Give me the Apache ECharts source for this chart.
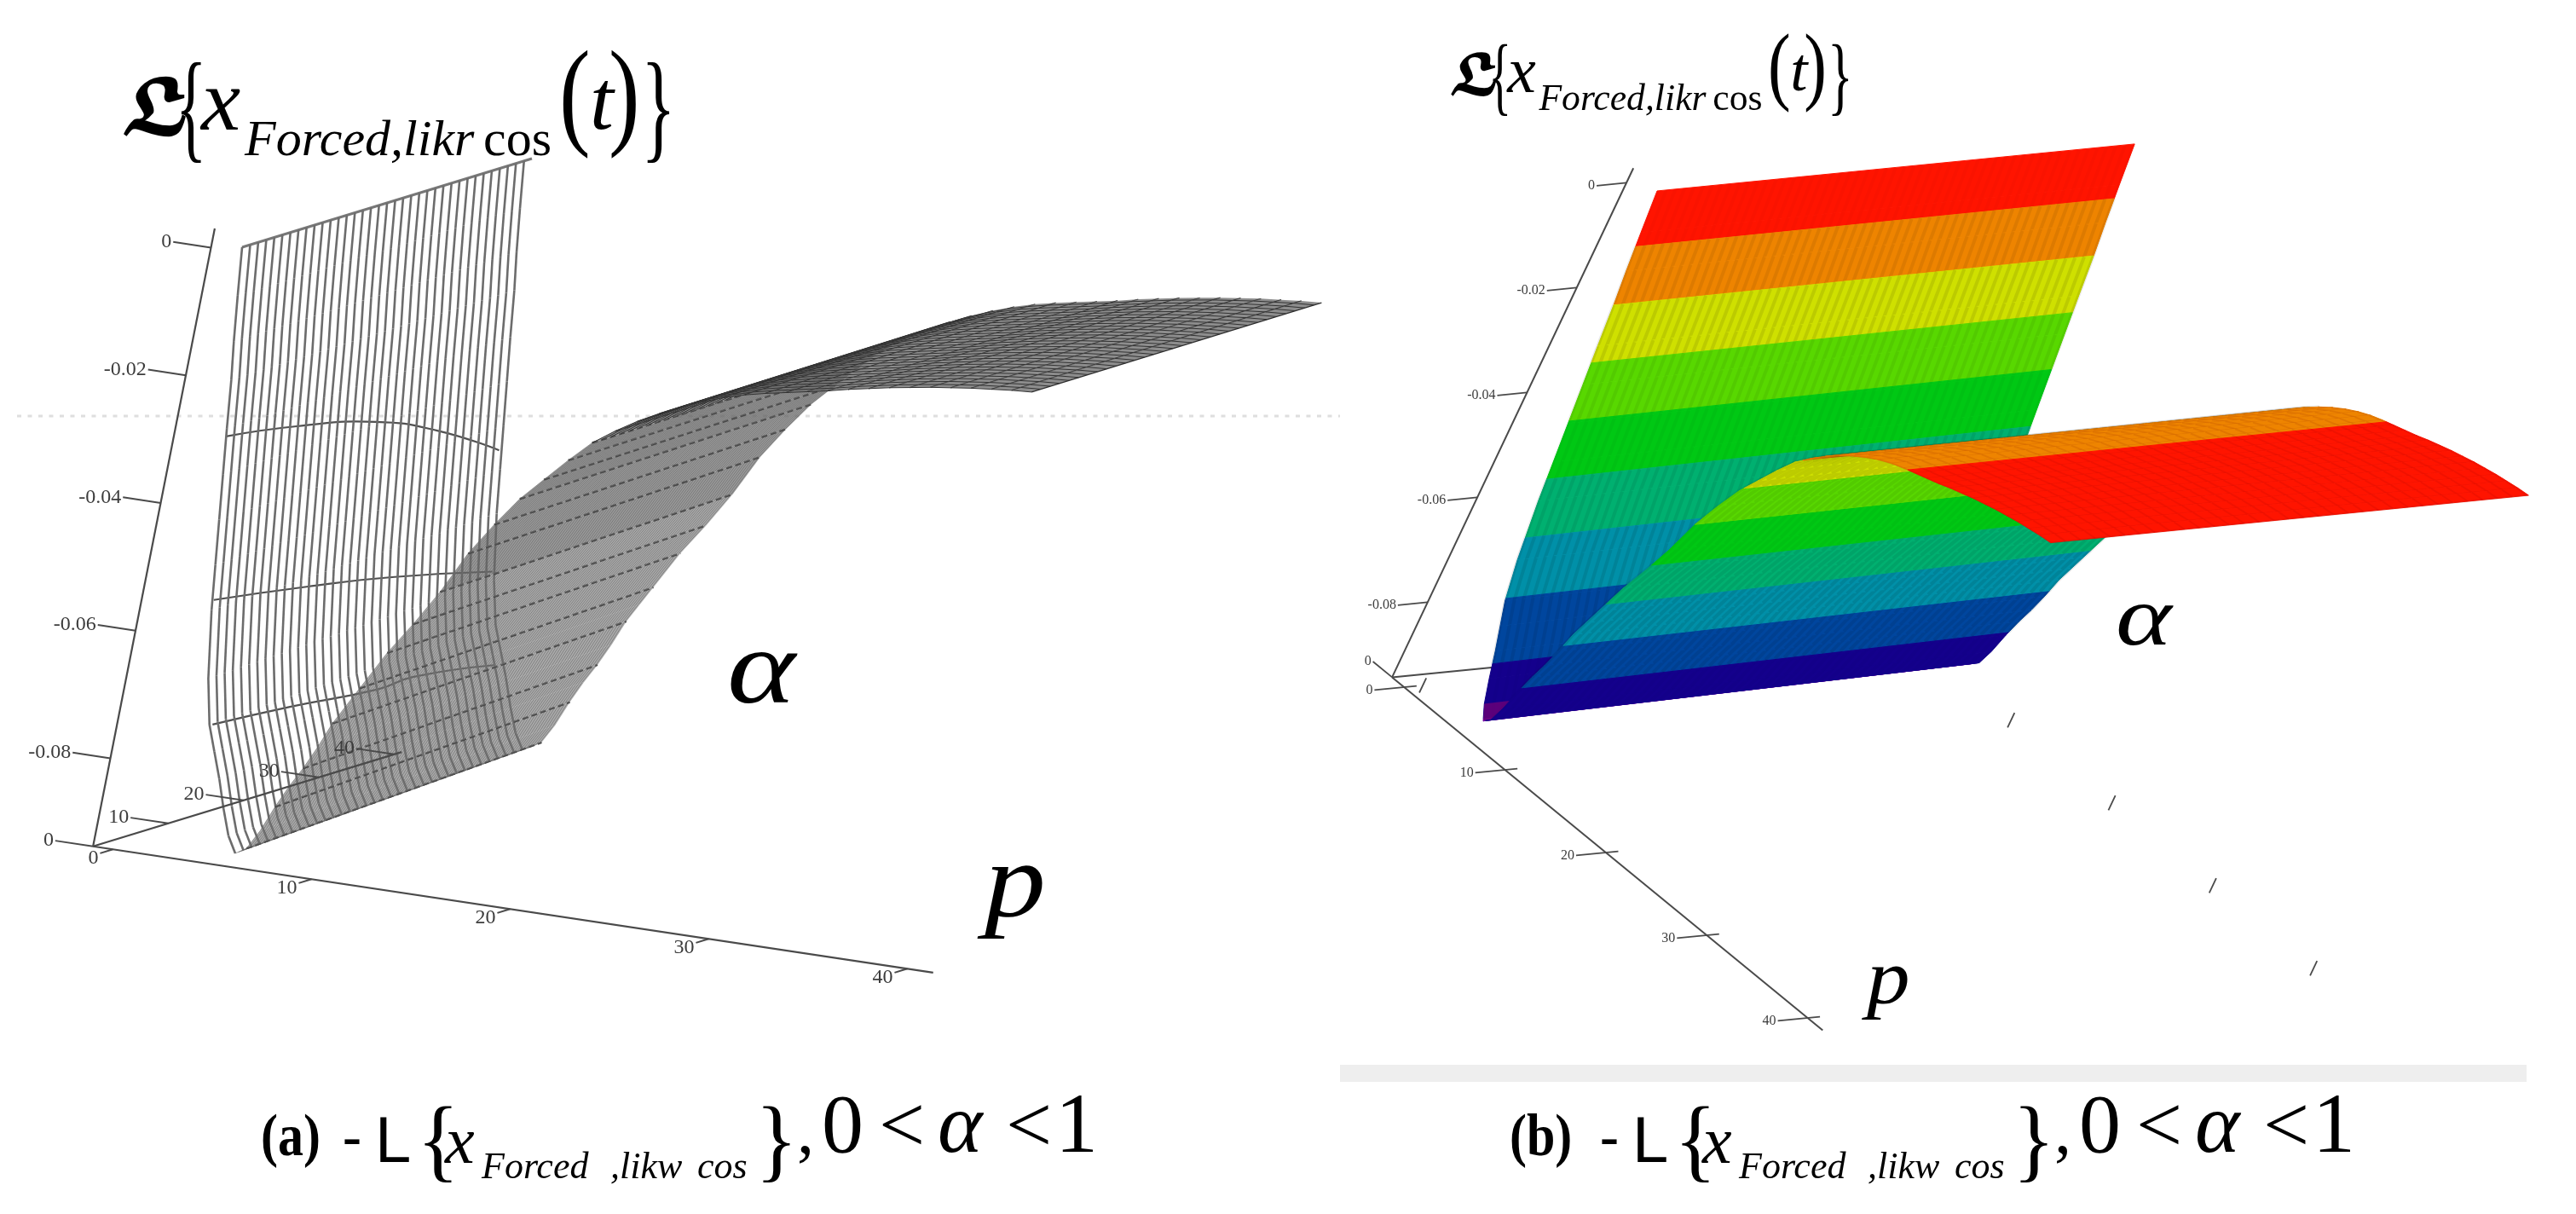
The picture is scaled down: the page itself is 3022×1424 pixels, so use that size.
<!DOCTYPE html>
<html>
<head>
<meta charset="utf-8">
<title>Forced response surfaces</title>
<script src="https://cdn.jsdelivr.net/npm/echarts@6/dist/echarts.min.js"></script>
<style>
html, body { margin: 0; padding: 0; background: #fff; }
#chart { width: 3022px; height: 1424px; }
</style>
</head>
<body>
<div id="chart"></div>
<script>
// surface profile, the surface is constant along alpha
const pValues = [0, 0.25, 0.5, 0.75, 1, 1.25, 1.5, 1.75, 2, 2.5, 3, 3.5, 4, 4.5, 5, 5.5, 6, 6.5, 7, 7.5, 8, 8.5, 9, 9.5, 10,
    11, 12, 13, 14, 15, 16, 17, 18, 19, 20, 21, 22, 23, 24, 25, 26, 27, 28, 29, 30, 31, 32, 33, 34, 35, 36, 37, 38, 39, 40]
const zValues = [0, -0.0075, -0.0145, -0.0205, -0.028, -0.035, -0.042, -0.049, -0.056, -0.0665, -0.0735, -0.0775, -0.0815, -0.086, -0.09, -0.0925, -0.0915, -0.0885, -0.0845, -0.081, -0.078, -0.0745, -0.0705, -0.0675, -0.0645,
    -0.0585, -0.0535, -0.048, -0.0415, -0.0365, -0.032, -0.0285, -0.025, -0.0218, -0.0195, -0.0175, -0.0158, -0.0143, -0.013, -0.0119, -0.011, -0.0103, -0.0097, -0.0091, -0.0085, -0.0078, -0.0072, -0.0066, -0.0061, -0.0056, -0.0052, -0.0048, -0.0045, -0.0042, -0.004]

const zTicks = [0, -0.02, -0.04, -0.06, -0.08]
const pTicks = [0, 10, 20, 30, 40]
const alphaTicks = [0, 10, 20, 30, 40]
const alphaStart = 1.5
const alphaEnd = 40

// the darker arcs on the wall of panel (a): [alpha, z], all at p = 1
const wallArcs = [
    [[1.6, -0.02925], [11.3, -0.0314], [22.3, -0.035], [31.2, -0.03994], [40.45, -0.04687]],
    [[4.4, -0.05604], [17.1, -0.05914], [29.2, -0.0626], [42.8, -0.06749]],
    [[7.67, -0.077], [18.05, -0.07861], [30, -0.08093], [34.6, -0.08095], [45.5, -0.08384]]
]

// colour bands of panel (b), top of band to bottom of band
const bandEdges = [0, -0.0101, -0.0206, -0.0311, -0.0416, -0.0521, -0.0626, -0.0731, -0.0836, -0.0922]
const bandColors = ['#ff1400', '#ee8400', '#cfe000', '#58d800', '#00c814', '#00b070', '#0090a8', '#00469e', '#14008c', '#7a10b0']
const bandStripes = [0.02, 0.07, 0.09, 0.06, 0.03, 0.07, 0.09, 0.08, 0.02, 0]

function steps(from, to, step) {
    let out = []
    for (let v = from; v <= to + 1e-6; v += step) out.push(v)
    return out
}

// 3D -> picture plane, both panels share one full page grid
function projector(c, flat) {
    const axz = flat ? 0 : c.axz, ayz = flat ? 0 : c.ayz
    return (p, a, z) => [
        c.x0 + c.px * p + (c.ax + axz * z) * a + c.zx * z,
        c.y0 + c.py * p + (c.ay + ayz * z) * a + c.zy * z
    ]
}

const viewA = { x0: 270.8, y0: 294, px: 23.3, py: 3.5, ax: 8.83, axz: -1.8, ay: -2.7, ayz: 5.8, zx: 1475, zy: -7487 }
const viewB = { x0: 1922.2, y0: 226.1, px: 11.83, py: 9.7, ax: 14.55, axz: -3.7, ay: -1.43, ayz: 3.4, zx: 2915, zy: -6150 }

const panelA = {
    proj: projector(viewA),
    axisProj: projector(viewA, true),
    pBox: -1, zBase: -0.0938, zTop: 0.003, pEnd: 41.3, aEnd: 41,
    zTickP: -1.9, zTickA: 0, aTickP: -1.9, pTickFrom: -1.7, pTickTo: 0, pLabelDown: 6,
    aTicks: alphaTicks, pTicks: pTicks, fontSize: 24, axisWidth: 2.2, farStubs: []
}
const panelB = {
    proj: projector(viewB),
    axisProj: projector(viewB, true),
    pBox: -1.2, zBase: -0.0943, zTop: 0.0028, pEnd: 41.5, aEnd: 41,
    zTickP: 0, zTickA: -2.4, aTickP: -1.9, pTickFrom: -2.4, pTickTo: 1, pLabelDown: 0,
    aTicks: [0], pTicks: pTicks, fontSize: 16, axisWidth: 2, farStubs: [[0, 1.5], [10, 40.8], [20, 40.8], [30, 40.8], [40, 40.8]]
}

function line(api, from, to, style) {
    let a = api.coord(from), b = api.coord(to)
    return { type: 'line', shape: { x1: a[0], y1: a[1], x2: b[0], y2: b[1] }, style: style }
}

function poly(api, pts, style) {
    return { type: 'polygon', shape: { points: pts.map(d => api.coord(d)) }, style: style }
}

function axesSeries(panel) {
    const proj = panel.axisProj
    const axisStyle = { stroke: '#4a4a4a', lineWidth: panel.axisWidth }
    const tickStyle = { stroke: '#4a4a4a', lineWidth: panel.axisWidth * 0.9 }
    const P = panel.pBox, Z = panel.zBase
    let items = [
        { from: proj(P, 0, Z), to: proj(P, 0, panel.zTop), style: axisStyle },
        { from: proj(P, 0, Z), to: proj(panel.pEnd, 0, Z), style: axisStyle },
        { from: proj(P, 0, Z), to: proj(P, panel.aEnd, Z), style: axisStyle }
    ]
    let texts = []
    zTicks.forEach(v => {
        let end = proj(P + panel.zTickP, panel.zTickA, v)
        items.push({ from: proj(P, 0, v), to: end, style: tickStyle })
        texts.push({ at: end, text: String(v), down: 0 })
    })
    panel.aTicks.forEach(v => {
        let end = proj(P + panel.aTickP, v, Z)
        items.push({ from: proj(P, v, Z), to: end, style: tickStyle })
        texts.push({ at: end, text: String(v), down: 0 })
    })
    panel.pTicks.forEach(v => {
        let end = proj(v, panel.pTickFrom, Z)
        items.push({ from: end, to: proj(v, panel.pTickTo, Z), style: tickStyle })
        texts.push({ at: end, text: String(v), down: panel.pLabelDown })
    })
    panel.farStubs.forEach(d => {
        items.push({ from: proj(d[0], d[1], Z - 0.0014), to: proj(d[0], d[1], Z + 0.0014), style: tickStyle })
    })
    return {
        type: 'custom',
        coordinateSystem: 'cartesian2d',
        silent: true,
        clip: false,
        data: items.concat(texts).map((d, i) => [i]),
        renderItem: (params, api) => {
            let i = api.value(0)
            if (i < items.length) return line(api, items[i].from, items[i].to, items[i].style)
            let t = texts[i - items.length], c = api.coord(t.at)
            return {
                type: 'text',
                x: c[0] - 2,
                y: c[1] + t.down,
                style: {
                    text: t.text,
                    fontFamily: 'Liberation Serif',
                    fontSize: panel.fontSize,
                    fill: '#3c3c3c',
                    align: 'right',
                    verticalAlign: 'middle'
                }
            }
        }
    }
}

// panel (a): wire mesh, painted from p = 0 outward so later strips lie over earlier ones
const wallLines = steps(alphaStart, alphaEnd, 1.07)
const fineLines = steps(alphaStart, alphaEnd, 0.42)
const coarseLines = steps(alphaStart, alphaEnd, 1.25)

function meshStrip(api, i) {
    const proj = panelA.proj
    let p1 = pValues[i], p2 = pValues[i + 1], z1 = zValues[i], z2 = zValues[i + 1]
    let kids = []
    if (p2 <= 5.5) {
        wallLines.forEach(a => kids.push(line(api, proj(p1, a, z1), proj(p2, a, z2), { stroke: '#6c6c6c', lineWidth: 2.6 })))
        return kids
    }
    let far = p2 > 19
    let fill = far ? 'rgba(112,112,112,0.8)' : (p2 > 13 ? 'rgba(104,104,104,0.68)' : 'rgba(118,118,118,0.62)')
    kids.push(poly(api, [proj(p1, alphaStart, z1), proj(p1, alphaEnd, z1), proj(p2, alphaEnd, z2), proj(p2, alphaStart, z2)], { fill: fill }))
    ;(far ? coarseLines : fineLines).forEach(a => kids.push(line(api, proj(p1, a, z1), proj(p2, a, z2), far
        ? { stroke: '#333', lineWidth: 1 }
        : { stroke: 'rgba(95,95,95,0.55)', lineWidth: 1 })))
    if (Number.isInteger(p2)) {
        kids.push(line(api, proj(p2, alphaStart, z2), proj(p2, alphaEnd, z2), far
            ? { stroke: '#2e2e2e', lineWidth: 1.3 }
            : { stroke: '#474747', lineWidth: 2.4, lineDash: [7, 4] }))
    }
    return kids
}

function wallTopAndArcs(api) {
    const proj = panelA.proj
    let kids = [line(api, proj(0, alphaStart, 0), proj(0, alphaEnd, 0), { stroke: '#777', lineWidth: 3 })]
    wallArcs.forEach(arc => {
        kids.push({
            type: 'polyline',
            shape: { points: arc.map(d => api.coord(proj(1, d[0], d[1]))), smooth: 0.5 },
            style: { stroke: '#505050', lineWidth: 2.2, fill: null }
        })
    })
    return kids
}

const meshSeries = {
    type: 'custom',
    coordinateSystem: 'cartesian2d',
    silent: true,
    clip: false,
    data: [[-1]].concat(pValues.slice(1).map((d, i) => [i])),
    renderItem: (params, api) => {
        let i = api.value(0)
        return { type: 'group', children: i < 0 ? wallTopAndArcs(api) : meshStrip(api, i) }
    }
}

// panel (b): the same surface, each strip is cut at the band edges
const stripeLines = steps(alphaStart, alphaEnd, 0.74)
const brickLines = steps(alphaStart, alphaEnd, 1.2)

function bandOf(z) {
    for (let k = 1; k < bandEdges.length; k++) {
        if (z > bandEdges[k]) return k - 1
    }
    return bandEdges.length - 1
}

function colourStrip(api, i) {
    const proj = panelB.proj
    let p1 = pValues[i], p2 = pValues[i + 1], z1 = zValues[i], z2 = zValues[i + 1]
    let cuts = [0, 1]
    bandEdges.forEach(e => {
        if ((z1 - e) * (z2 - e) < 0) cuts.push((e - z1) / (z2 - z1))
    })
    cuts.sort((x, y) => x - y)
    let kids = []
    for (let j = 0; j + 1 < cuts.length; j++) {
        let pa = p1 + (p2 - p1) * cuts[j], pb = p1 + (p2 - p1) * cuts[j + 1]
        let za = z1 + (z2 - z1) * cuts[j], zb = z1 + (z2 - z1) * cuts[j + 1]
        let k = bandOf((za + zb) / 2)
        kids.push(poly(api, [proj(pa, alphaStart, za), proj(pa, alphaEnd, za), proj(pb, alphaEnd, zb), proj(pb, alphaStart, zb)], {
            fill: bandColors[k], stroke: bandColors[k], lineWidth: 1
        }))
        if (p2 <= 22 && bandStripes[k] > 0) {
            stripeLines.forEach(a => kids.push(line(api, proj(pa, a, za), proj(pb, a, zb), { stroke: 'rgba(0,0,0,' + bandStripes[k] + ')', lineWidth: 4 })))
        } else if (p2 > 22) {
            brickLines.forEach(a => kids.push(line(api, proj(pa, a, za), proj(pb, a, zb), { stroke: 'rgba(120,0,0,0.10)', lineWidth: 2 })))
        }
    }
    if (p2 > 22 && Number.isInteger(p2)) {
        kids.push(line(api, proj(p2, alphaStart, z2), proj(p2, alphaEnd, z2), { stroke: 'rgba(120,0,0,0.12)', lineWidth: 2 }))
    }
    return kids
}

// small purple patch at the lowest corner of panel (b)
function purplePatch(api) {
    const proj = panelB.proj
    return [poly(api, [proj(5, 1.5, -0.09), proj(5, 3.5, -0.09), proj(5.5, 4.5, -0.0925), proj(5.5, 1.5, -0.0925)], { fill: 'rgba(104,0,120,0.85)' })]
}

const colourSeries = {
    type: 'custom',
    coordinateSystem: 'cartesian2d',
    silent: true,
    clip: false,
    data: pValues.slice(1).map((d, i) => [i]),
    renderItem: (params, api) => {
        let i = api.value(0)
        let kids = colourStrip(api, i)
        return { type: 'group', children: pValues[i + 1] === 5.5 ? kids.concat(purplePatch(api)) : kids }
    }
}

// formula text, pieces are set one by one because the braces are stretched
function piece(text, x, base, size, opt) {
    opt = opt || {}
    let sx = opt.sx || 1, sy = opt.sy || 1
    return {
        text: text, x: x, base: base, size: size, sx: sx, sy: sy,
        family: opt.family || 'Liberation Serif',
        style: opt.italic ? 'italic' : 'normal',
        weight: opt.bold ? 'bold' : 'normal'
    }
}

function textElements(pieces, dx, dy, k) {
    return pieces.map(d => ({
        type: 'text',
        x: d.x * k + dx,
        y: (d.base - 0.3375 * d.size * d.sy) * k + dy,
        scaleX: d.sx * k,
        scaleY: d.sy * k,
        silent: true,
        style: {
            text: d.text,
            fontFamily: d.family,
            fontSize: d.size,
            fontStyle: d.style,
            fontWeight: d.weight,
            fill: '#000',
            align: 'left',
            verticalAlign: 'middle'
        }
    }))
}

const titlePieces = [
    piece('\u{1D577}', 140, 160, 84, { family: 'DejaVu Math TeX Gyre, DejaVu Serif, Noto Sans', bold: true }),
    piece('{', 206, 183, 100, { sx: 0.76, sy: 1.41 }),
    piece('x', 236, 160, 104, { italic: true }),
    piece('Forced,likr', 287, 186, 60, { italic: true }),
    piece('cos', 567, 186, 60),
    piece('(', 656, 166, 100, { sx: 1.1, sy: 1.4 }),
    piece('t', 692, 158, 100, { italic: true }),
    piece(')', 714, 166, 100, { sx: 1.1, sy: 1.4 }),
    piece('}', 752, 183, 100, { sx: 0.85, sy: 1.41 })
]

function captionPieces(tag, tagShift) {
    return [
        piece(tag, 306 + tagShift, 1360, 60, { bold: true, sy: 1.15 }),
        piece('-', 402, 1360, 66, { bold: true }),
        piece('L', 440, 1368, 76, { family: 'Liberation Sans' }),
        piece('{', 489, 1381, 80, { sx: 1.3, sy: 1.35 }),
        piece('x', 522, 1370, 78, { italic: true }),
        piece('Forced', 565, 1385, 44, { italic: true }),
        piece(',likw', 716, 1385, 44, { italic: true }),
        piece('cos', 818, 1385, 44, { italic: true }),
        piece('}', 886, 1381, 80, { sx: 1.3, sy: 1.35 }),
        piece(',', 935, 1358, 80),
        piece('0', 964, 1358, 98),
        piece('<', 1031, 1358, 96),
        piece('\u03B1', 1100, 1358, 100, { italic: true }),
        piece('<', 1180, 1358, 96),
        piece('1', 1238, 1358, 100)
    ]
}

const bigLabels = [
    piece('\u03B1', 853, 833, 125, { italic: true, sx: 1.22 }),
    piece('p', 1155, 1083, 125, { italic: true, sx: 1.15 }),
    piece('\u03B1', 2482, 763, 100, { italic: true, sx: 1.25 }),
    piece('p', 2190, 1184, 92, { italic: true, sx: 1.1 })
]

const chart = echarts.init(document.getElementById('chart'))
chart.setOption({
    animation: false,
    backgroundColor: '#fff',
    grid: { left: 0, right: 0, top: 0, bottom: 0 },
    xAxis: { type: 'value', min: 0, max: 3022, show: false },
    yAxis: { type: 'value', min: 0, max: 1424, inverse: true, show: false },
    graphic: {
        elements: [
            { type: 'line', silent: true, shape: { x1: 20, y1: 488, x2: 1572, y2: 488 }, style: { stroke: '#dedede', lineWidth: 3, lineDash: [5, 7.5] } },
            { type: 'rect', silent: true, shape: { x: 1572, y: 1249, width: 1392, height: 20 }, style: { fill: '#eeeeee' } }
        ].concat(
            textElements(titlePieces, 0, 0, 1),
            textElements(titlePieces, 1596.5, -3.2, 0.728),
            textElements(captionPieces('(a)', 0), 0, 0, 1),
            textElements(captionPieces('(b)', -10), 1475, 0, 1),
            textElements(bigLabels, 0, 0, 1)
        )
    },
    series: [meshSeries, axesSeries(panelA), axesSeries(panelB), colourSeries]
})
</script>
</body>
</html>
